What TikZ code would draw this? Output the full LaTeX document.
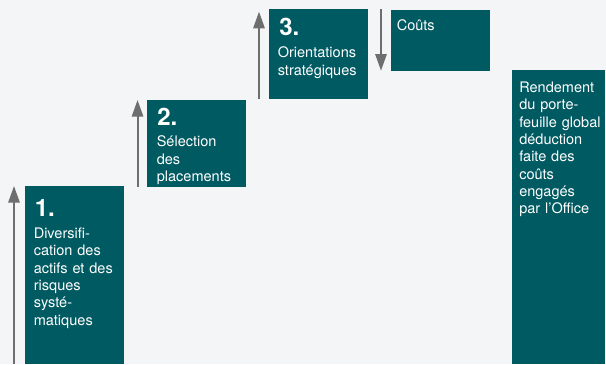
\documentclass[tikz,border=0pt]{standalone}
\usepackage{fontspec}
\setmainfont{TeX Gyre Heros}
\usetikzlibrary{arrows.meta}

\definecolor{bleu}{HTML}{005A62}
\definecolor{fond}{HTML}{F4F5F7}
\definecolor{fleche}{HTML}{6E6E6E}

\tikzset{
  bloc/.style={rectangle, fill=bleu, inner sep=0pt, outer sep=0pt},
  num/.style={anchor=base west, inner sep=0pt, text=white,
    font=\fontsize{18}{18}\selectfont\bfseries},
  txt/.style={anchor=base west, inner sep=0pt, text=white, align=left,
    text width=68pt, font=\fontsize{10.9}{13}\selectfont},
  monte/.style={-{Triangle[width=8.5pt,length=12.5pt]},
    line width=1.5pt, draw=fleche},
}

\begin{document}
\begin{tikzpicture}[x=0.75pt, y=-0.75pt]

    \useasboundingbox[fill=fond] (0,0) rectangle (606,364);

    % les trois marches
    \node[bloc,
    minimum width=74.25pt,
    minimum height=133.5pt] (b1) at (74.5,275) {};

    \node[bloc,
    minimum width=73.875pt,
    minimum height=64.875pt] (b2) at (196.25,143.25) {};

    \node[bloc,
    minimum width=74.25pt,
    minimum height=67.5pt] (b3) at (318.5,54) {};

    % couts et rendement
    \node[bloc,
    minimum width=74.25pt,
    minimum height=45.5pt] (cout) at (440.5,40.35) {};

    \node[bloc,
    minimum width=69.75pt,
    minimum height=220.5pt] (rend) at (558.5,217) {};

      \node[num] (n1) at (34.5,216) {1.};
      \node[txt] (t1) at (33.5,238.5)
      {Diversifi-\\cation des\\actifs et des\\risques\\systé-\\matiques};

      \node[num] (n2) at (157,125.7) {2.};
      \node[txt] (t2) at (156.5,146.7) {Sélection\\des\\placements};

      \node[num] (n3) at (279,36) {3.};
      \node[txt] (t3) at (277.5,57.7) {Orientations\\stratégiques};

      \node[txt] (t4) at (396.5,30) {Coûts};

      \node[txt] (t5) at (519,92.5)
      {Rendement\\du porte-\\feuille global\\déduction\\faite des\\coûts\\engagés\\par l’Office};

      \draw[monte] ([xshift=-8.25pt]b1.south west)--([xshift=-8.25pt]b1.north west);
      \draw[monte] ([xshift=-7.1pt]b2.south west)--([xshift=-7.1pt]b2.north west);
      \draw[monte] ([xshift=-7.5pt]b3.south west)--([xshift=-7.5pt,yshift=-2pt]b3.north west);
      \draw[monte] ([xshift=-7.5pt,yshift=0.75pt]cout.north west)--([xshift=-7.5pt]cout.south west);
    \end{tikzpicture}
\end{document}
